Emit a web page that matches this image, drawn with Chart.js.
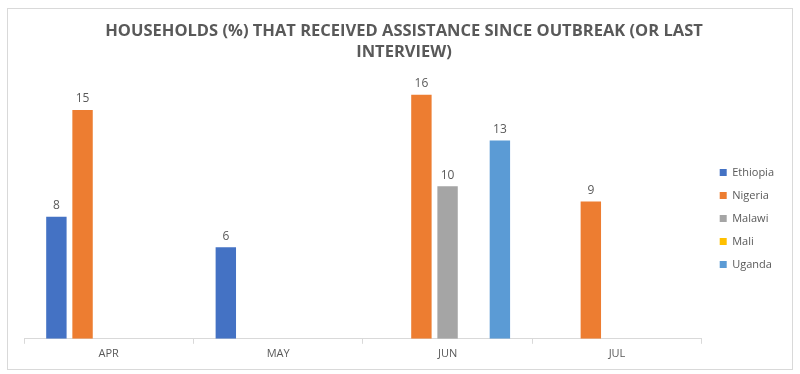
<!DOCTYPE html>
<html>
<head>
<meta charset="utf-8">
<script src="https://cdn.jsdelivr.net/npm/chart.js@4.4.0/dist/chart.umd.min.js"></script>
<style>
  body { margin: 0; background: #fff; }
  #box { position: absolute; left: 7px; top: 8px; width: 784px; height: 360px; border: 1px solid #d9d9d9; }
</style>
</head>
<body>
<div id="box"><canvas id="myChart" width="784" height="360"></canvas></div>
<script>
const months = ['APR', 'MAY', 'JUN', 'JUL'];
const ethiopia = [8, 6, null, null];
const nigeria = [15, null, 16, 9];
const malawi = [null, null, 10, null];
const mali = [null, null, null, null];
const uganda = [null, null, 13, null];

const grey = '#595959';

// draws the number above every bar
const barLabels = {
  id: 'barLabels',
  afterDatasetsDraw(chart) {
    const ctx = chart.ctx;
    ctx.save();
    ctx.fillStyle = grey;
    ctx.font = '12px "Open Sans"';
    ctx.textAlign = 'center';
    ctx.textBaseline = 'bottom';
    chart.data.datasets.forEach((ds, i) => {
      chart.getDatasetMeta(i).data.forEach((bar, j) => {
        if (ds.data[j] == null) return;
        ctx.fillText(ds.data[j], bar.x, bar.y - 5);
      });
    });
    ctx.restore();
  }
};

const ctx = document.getElementById('myChart');
new Chart(ctx, {
  type: 'bar',
  data: {
    labels: months,
    datasets: [
      { label: 'Ethiopia', backgroundColor: '#4472C4', data: ethiopia },
      { label: 'Nigeria', backgroundColor: '#ED7D31', data: nigeria },
      { label: 'Malawi', backgroundColor: '#A5A5A5', data: malawi },
      { label: 'Mali', backgroundColor: '#FFC000', data: mali },
      { label: 'Uganda', backgroundColor: '#5B9BD5', data: uganda }
    ]
  },
  options: {
    responsive: false,
    animation: false,
    categoryPercentage: 0.772,
    barPercentage: 0.78,
    layout: { padding: { left: 16, right: 8, bottom: 6 } },
    plugins: {
      title: {
        display: true,
        text: ['HOUSEHOLDS (%) THAT RECEIVED ASSISTANCE SINCE OUTBREAK (OR LAST', 'INTERVIEW)'],
        color: grey,
        font: { family: 'Open Sans', size: 16.5, weight: 'bold', lineHeight: 1.25 },
        padding: { top: 12, bottom: 2 }
      },
      legend: {
        position: 'right',
        // empty title only pushes the items down
        title: { display: true, text: ' ', padding: { top: 52, bottom: 0 }, font: { size: 11 } },
        labels: {
          color: grey,
          boxWidth: 7,
          boxHeight: 7,
          padding: 12,
          font: { family: 'Open Sans', size: 11 }
        }
      },
      tooltip: { enabled: false }
    },
    scales: {
      x: {
        border: { color: '#d9d9d9' },
        grid: { drawOnChartArea: false, drawTicks: true, tickLength: 5, color: '#d9d9d9', offset: true },
        ticks: { color: grey, padding: 3, font: { family: 'Open Sans', size: 11 } }
      },
      y: {
        position: 'right',
        min: 0,
        max: 18,
        ticks: { display: false },
        grid: { display: false },
        border: { display: false },
        afterFit(scale) { scale.width = 6; }
      }
    }
  },
  plugins: [barLabels]
});
</script>
</body>
</html>
